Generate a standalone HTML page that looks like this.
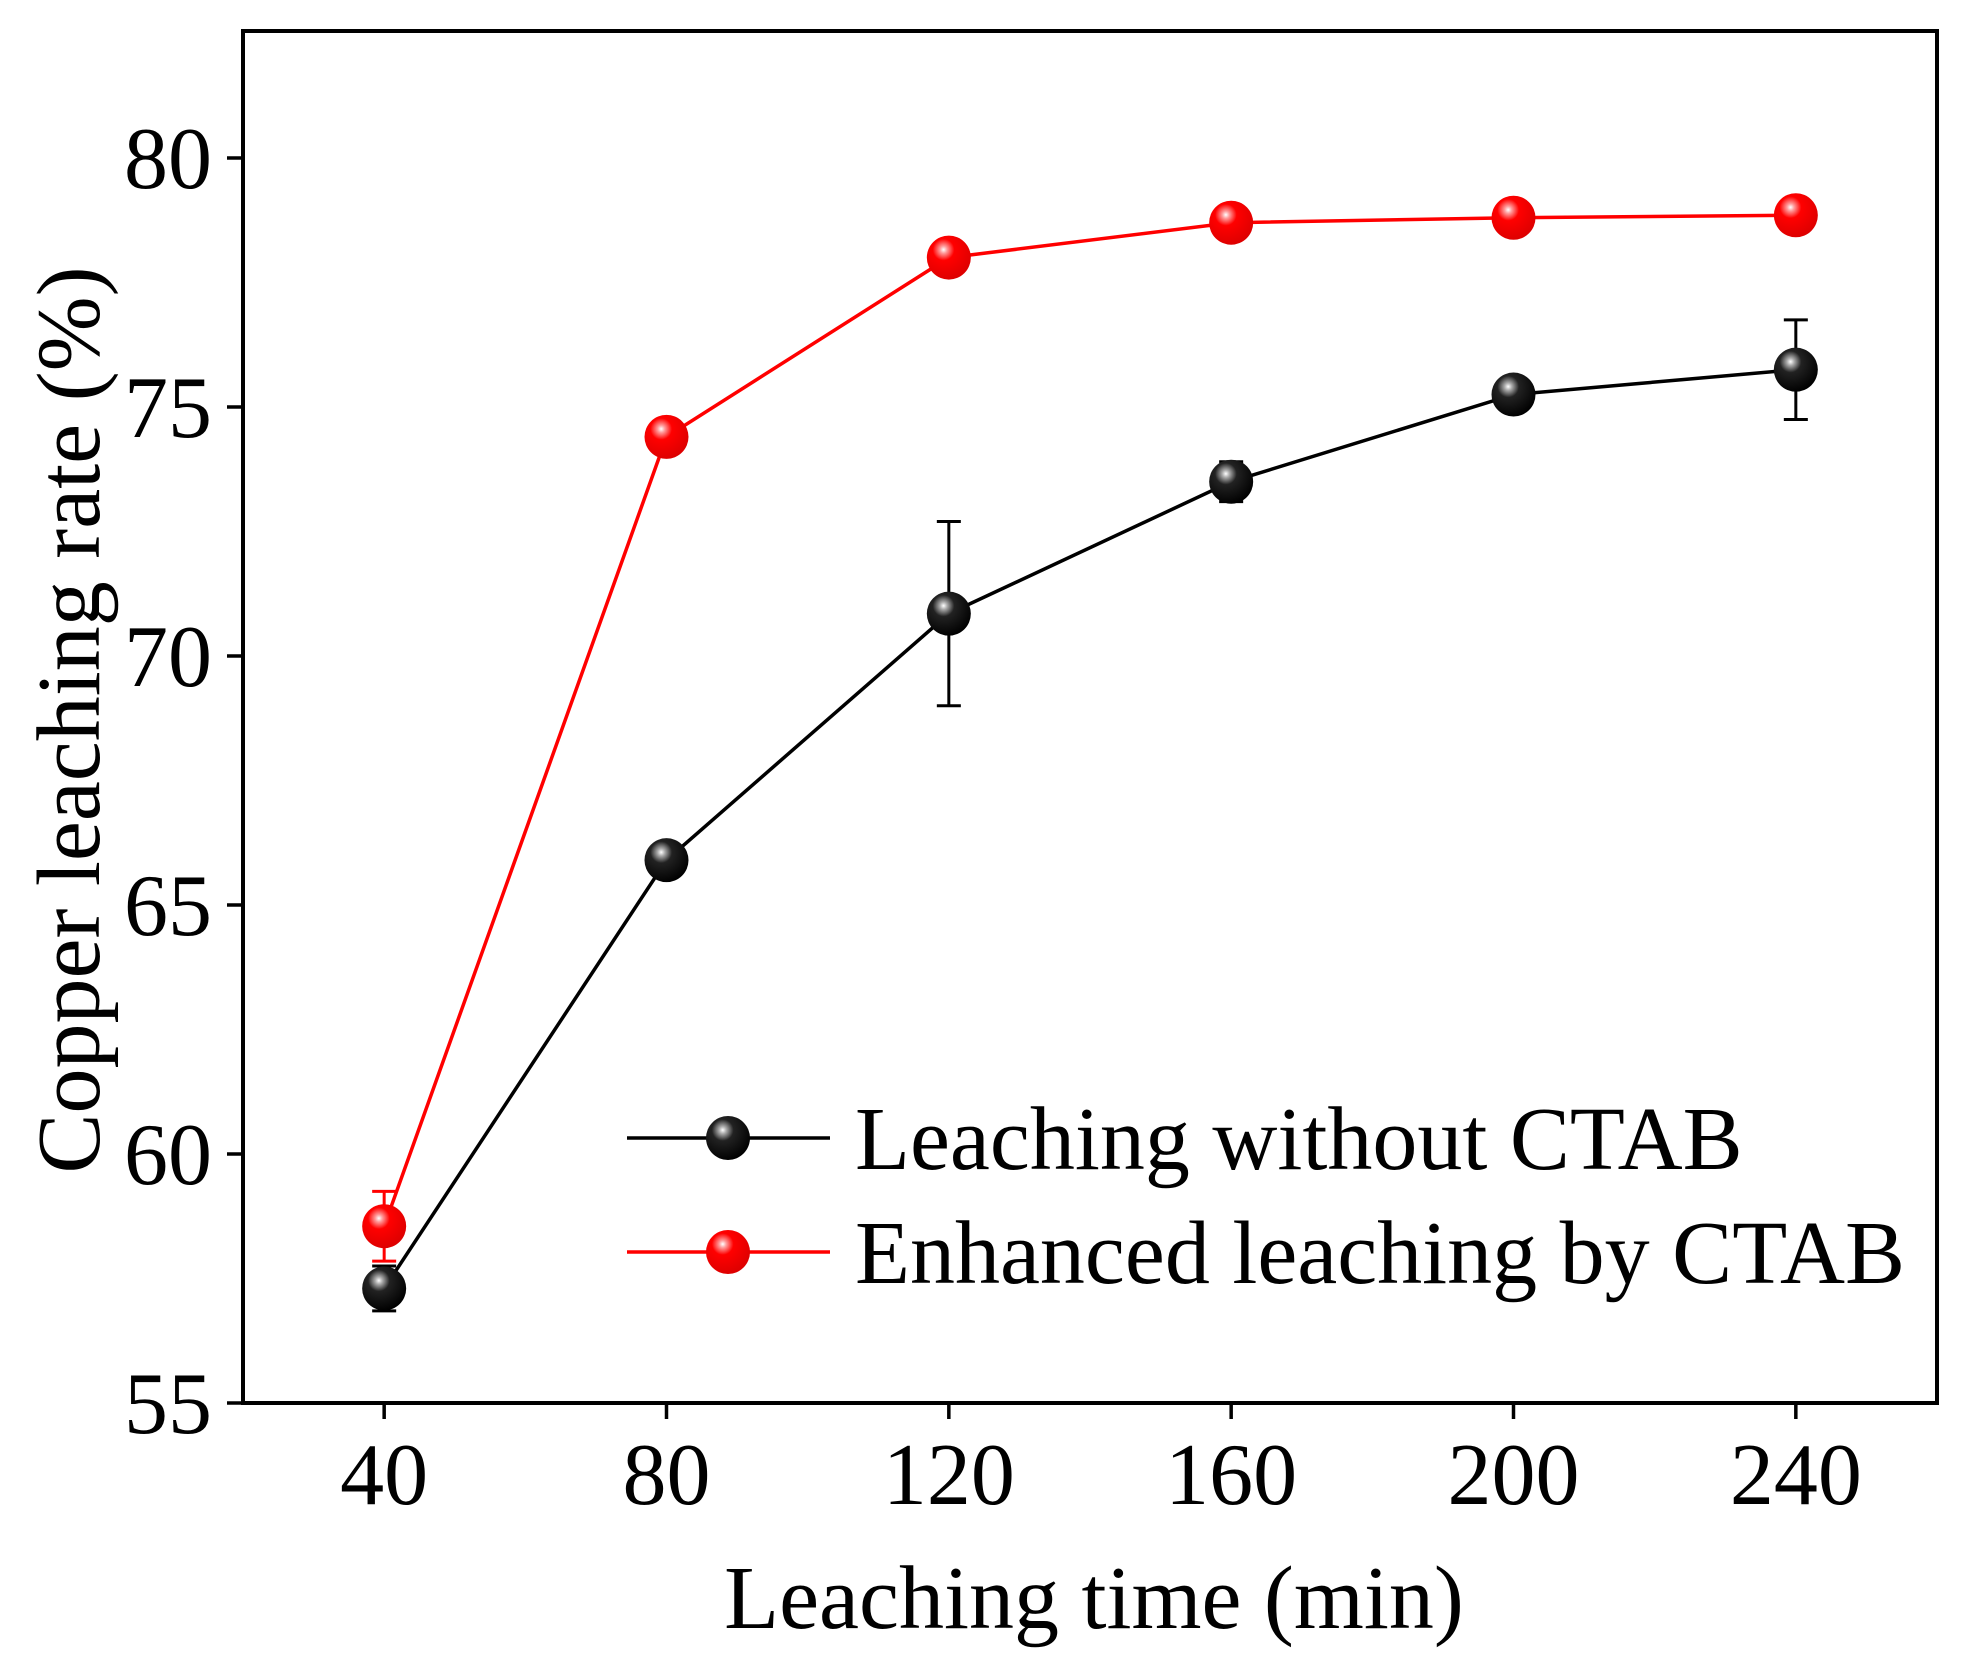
<!DOCTYPE html>
<html><head><meta charset="utf-8"><style>
html,body{margin:0;padding:0;background:#fff}
svg text{font-family:"Liberation Serif",serif;fill:#000}
</style></head><body>
<svg id="chart" width="1963" height="1668" viewBox="0 0 1963 1668" xmlns="http://www.w3.org/2000/svg">
<defs>
<radialGradient id="gBlack" cx="0.38" cy="0.32" r="0.7"><stop offset="0" stop-color="#fff"/><stop offset="0.12" stop-color="#aaa"/><stop offset="0.35" stop-color="#222"/><stop offset="1" stop-color="#000"/></radialGradient>
<radialGradient id="gRed" cx="0.38" cy="0.32" r="0.7"><stop offset="0" stop-color="#fff"/><stop offset="0.12" stop-color="#f99"/><stop offset="0.35" stop-color="#f00"/><stop offset="1" stop-color="#d00"/></radialGradient>
</defs>
<g id="plot"></g>
</svg>
<script>
const times = [40, 80, 120, 160, 200, 240];
const withoutCTAB = [57.3, 65.9, 70.85, 73.5, 75.25, 75.75];
const withoutErr = [0.45, 0.1, 1.85, 0.4, 0.1, 1.0];
const withCTAB = [58.55, 74.4, 78.0, 78.7, 78.8, 78.85];
const withErr = [0.7, 0.1, 0.1, 0.1, 0.1, 0.1];
const xTicks = [40, 80, 120, 160, 200, 240];
const yTicks = [55, 60, 65, 70, 75, 80];

const L=243,R=1937,T=31,B=1403;
const X0=20,X1=260,Y0=55,Y1=82.55;
const sx=v=>L+(v-X0)/(X1-X0)*(R-L);
const sy=v=>B-(v-Y0)/(Y1-Y0)*(B-T);
const NS='http://www.w3.org/2000/svg';
const g=document.getElementById('plot');
function mk(tag,attrs,parent){const e=document.createElementNS(NS,tag);for(const k in attrs)e.setAttribute(k,attrs[k]);(parent||g).appendChild(e);return e;}

let e=mk('rect',{x:L,y:T,width:R-L,height:B-T,fill:'none',stroke:'#000','stroke-width':4});



xTicks.forEach(t=>{
  let l=mk('line',{x1:sx(t),x2:sx(t),y1:B,y2:B+16,stroke:'#000','stroke-width':3.5});
  
  
  let tx=mk('text',{x:sx(t),y:1504,'font-size':88,'text-anchor':'middle'});
  tx.textContent=t;
  
  
});
yTicks.forEach(t=>{
  let l=mk('line',{x1:L-16,x2:L,y1:sy(t),y2:sy(t),stroke:'#000','stroke-width':3.5});
  
  
  let tx=mk('text',{x:212,y:sy(t)+30,'font-size':88,'text-anchor':'end'});
  tx.textContent=t;
  
  
});

let xt=mk('text',{x:1094,y:1628,'font-size':90,'text-anchor':'middle'});
xt.textContent='Leaching time (min)';


let yt=mk('text',{x:0,y:0,'font-size':90,'text-anchor':'middle',transform:'translate(99,720) rotate(-90)'});
yt.textContent='Copper leaching rate (%)';



function series(vals,errs,color,grad,name){
  const pts=times.map((t,i)=>sx(t)+','+sy(vals[i])).join(' ');
  let pl=mk('polyline',{points:pts,fill:'none',stroke:color,'stroke-width':3.5});
  
  
  times.forEach((t,i)=>{
    const x=sx(t),y1=sy(vals[i]+errs[i]),y2=sy(vals[i]-errs[i]);
    let eb=mk('path',{d:`M${x} ${y1}V${y2}M${x-12} ${y1}H${x+12}M${x-12} ${y2}H${x+12}`,stroke:color,'stroke-width':3,fill:'none'});
    
    
    let c=mk('circle',{cx:x,cy:sy(vals[i]),r:22,fill:`url(#${grad})`});
    
    
  });
}
series(withoutCTAB,withoutErr,'#000','gBlack','without-ctab');
series(withCTAB,withErr,'#f00','gRed','with-ctab');

[['Leaching without CTAB','#000','gBlack',1138],['Enhanced leaching by CTAB','#f00','gRed',1252]].forEach((r,i)=>{
  let l=mk('line',{x1:627,x2:830,y1:r[3],y2:r[3],stroke:r[1],'stroke-width':3.5});
  
  
  let c=mk('circle',{cx:728,cy:r[3],r:22,fill:`url(#${r[2]})`});
  
  
  let t=mk('text',{x:855,y:r[3]+31,'font-size':90});
  t.textContent=r[0];
  
  
});
</script>
</body></html>
